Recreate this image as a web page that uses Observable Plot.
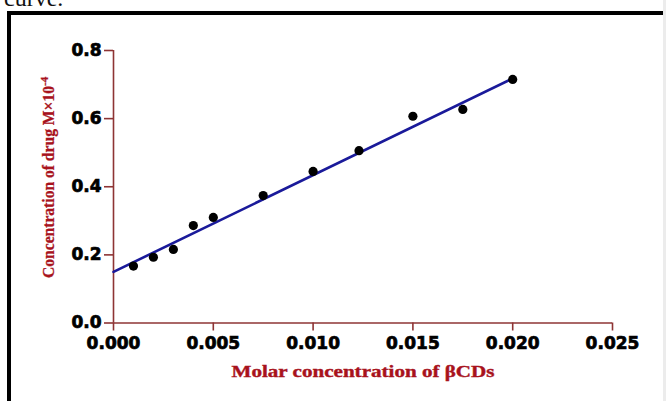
<!DOCTYPE html>
<html>
<head>
<meta charset="utf-8">
<script src="https://cdn.jsdelivr.net/npm/d3@7"></script>
<script src="https://cdn.jsdelivr.net/npm/@observablehq/plot@0.6"></script>
<style>
  html, body { margin: 0; padding: 0; background: #fff; }
  #wrap { position: relative; width: 666px; height: 401px; overflow: hidden; background: #fff; }
  #caption { position: absolute; left: 4px; top: -14px; font: 24px/24px "Liberation Serif", serif; color: #111; white-space: nowrap; }
  #border { position: absolute; left: 7px; top: 11px; width: 700px; height: 420px; border-left: 4px solid #000; border-top: 4px solid #000; box-sizing: border-box; }
  #edge { position: absolute; left: 663px; top: 0; width: 3px; height: 401px; background: #ececec; }
  #chart { position: absolute; left: 0; top: 0; }
</style>
</head>
<body>
<div id="wrap">
  <div id="caption">curve.</div>
  <div id="border"></div>
  <div id="edge"></div>
  <div id="chart"></div>
</div>
<script>
// Data
const molarConc = [0.001, 0.002, 0.003, 0.004, 0.005, 0.0075, 0.010, 0.0123, 0.015, 0.0175, 0.020];
const drugConc  = [0.167, 0.193, 0.216, 0.286, 0.310, 0.374, 0.445, 0.506, 0.607, 0.627, 0.715];
const fitX = [0, 0.020];
const fitY = [0.150, 0.718];
const xTicks = [0, 0.005, 0.010, 0.015, 0.020, 0.025];
const yTicks = [0, 0.2, 0.4, 0.6, 0.8];
const xTitle = "Molar concentration of βCDs";
const yTitle = "Concentration of drug M×10";
const yTitleSup = "-4";

const points = molarConc.map((x, i) => ({x, y: drugConc[i]}));
const fit = fitX.map((x, i) => ({x, y: fitY[i]}));

const axisColor = "#8e3434";
const titleColor = "#a8121c";

const svg = Plot.plot({
  width: 666,
  height: 401,
  marginLeft: 113,
  marginRight: 54,
  marginTop: 50,
  marginBottom: 78.5,
  style: {background: "transparent", fontFamily: "DejaVu Sans", fontWeight: "bold", fontSize: "17px", color: "#000"},
  x: {domain: [0, 0.025]},
  y: {domain: [0, 0.8]},
  marks: [
    Plot.ruleY([0], {x1: 0, x2: 0.025, stroke: axisColor, strokeWidth: 1.6}),
    Plot.ruleX([0], {y1: 0, y2: 0.8, stroke: axisColor, strokeWidth: 1.6}),
    Plot.axisX({ticks: xTicks, tickFormat: d3.format(".3f"), tickSize: 8, tickPadding: 6, stroke: axisColor, strokeWidth: 1.6, fill: "#000", label: null}),
    Plot.axisY({ticks: yTicks, tickFormat: d3.format(".1f"), tickSize: 9, tickPadding: 3, stroke: axisColor, strokeWidth: 1.6, fill: "#000", label: null}),
    Plot.line(fit, {x: "x", y: "y", stroke: "#1a1a9a", strokeWidth: 2.6}),
    Plot.dot(points, {x: "x", y: "y", r: 4.6, fill: "#000", stroke: "none"})
  ]
});

const s = d3.select(svg);
// heavier tick labels
s.selectAll('g[aria-label$="tick label"] text').attr("stroke", "#000").attr("stroke-width", 0.7);
// x title
s.append("text")
  .attr("x", 231.5).attr("y", 377)
  .attr("text-anchor", "start")
  .attr("font-family", "Liberation Serif").attr("font-weight", "bold").attr("font-size", 17)
  .attr("fill", titleColor).attr("stroke", titleColor).attr("stroke-width", 0.4)
  .attr("textLength", 263).attr("lengthAdjust", "spacingAndGlyphs")
  .text(xTitle);
// y title
const yt = s.append("text")
  .attr("transform", "translate(54,278) rotate(-90)")
  .attr("text-anchor", "start")
  .attr("font-family", "Liberation Serif").attr("font-weight", "bold").attr("font-size", 16)
  .attr("fill", titleColor).attr("stroke", titleColor).attr("stroke-width", 0.3);
yt.append("tspan").attr("textLength", 192).attr("lengthAdjust", "spacingAndGlyphs").text(yTitle);
yt.append("tspan").attr("dy", -6).attr("font-size", 11).text(yTitleSup);

document.getElementById("chart").appendChild(svg);
</script>
</body>
</html>
